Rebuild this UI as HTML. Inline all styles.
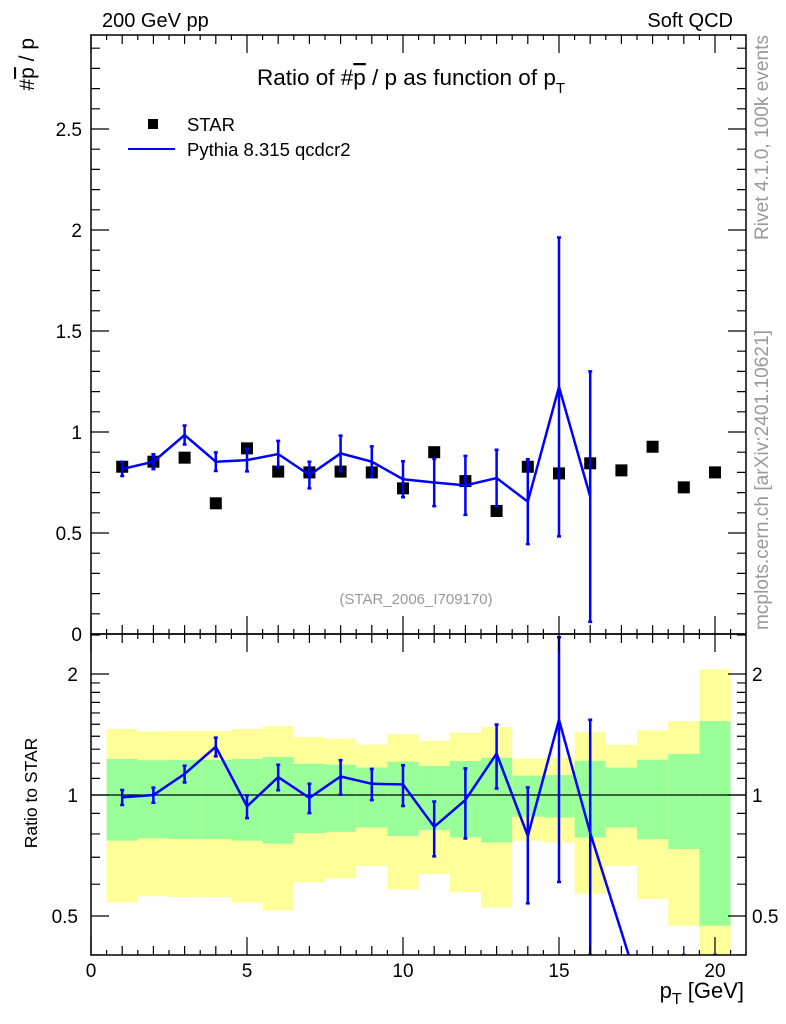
<!DOCTYPE html>
<html><head><meta charset="utf-8"><style>
html,body{margin:0;background:#fff;overflow:hidden;width:786px;height:1024px;}
svg{display:block;font-family:"Liberation Sans",sans-serif;}
</style></head><body>
<svg id="c" width="786" height="1024" viewBox="0 0 786 1024" xmlns="http://www.w3.org/2000/svg">
<text x="102" y="27" font-size="20">200 GeV pp</text>
<text x="733" y="27" font-size="20" text-anchor="end">Soft QCD</text>
<text x="257" y="85" font-size="22.5" textLength="308">Ratio of #<tspan text-decoration="overline">p</tspan> / p as function of p<tspan font-size="15" dy="8">T</tspan></text>
<text transform="translate(34,38) rotate(-90)" font-size="21" text-anchor="end">#<tspan text-decoration="overline">p</tspan> / p</text>
<text transform="translate(37,793) rotate(-90)" font-size="17.5" text-anchor="middle">Ratio to STAR</text>
<text x="744" y="998" font-size="22" text-anchor="end">p<tspan font-size="16" dy="6">T</tspan><tspan dy="-6"> [GeV]</tspan></text>
<text transform="translate(768,240) rotate(-90)" font-size="19" fill="#999" textLength="205">Rivet 4.1.0,  100k events</text>
<text transform="translate(768,630) rotate(-90)" font-size="19" fill="#999" textLength="300">mcplots.cern.ch [arXiv:2401.10621]</text>
<text x="416" y="604" font-size="15" fill="#999" text-anchor="middle">(STAR_2006_I709170)</text>
<rect x="148" y="119" width="10" height="10" fill="#000"/>
<text x="187" y="131" font-size="18.5">STAR</text>
<line x1="128" y1="149" x2="175" y2="149" stroke="#00f" stroke-width="2"/>
<text x="187" y="156" font-size="18.5">Pythia 8.315 qcdcr2</text>
<g id="bands"></g><g id="marks"></g><g id="axes"></g>
</svg>
<script>
const xCenters=[1,2,3,4,5,6,7,8,9,10,11,12,13,14,15,16,17,18,19,20];
const starVals=[0.828,0.853,0.873,0.647,0.919,0.804,0.80,0.804,0.80,0.721,0.90,0.757,0.609,0.828,0.795,0.845,0.81,0.927,0.726,0.80];
const starStatRel=[0.23,0.22,0.223,0.223,0.23,0.243,0.196,0.19,0.17,0.21,0.182,0.215,0.238,0.117,0.121,0.216,0.17,0.224,0.266,0.527];
const starTotRel=[0.46,0.44,0.443,0.443,0.46,0.484,0.393,0.38,0.334,0.418,0.364,0.427,0.475,0.231,0.238,0.432,0.333,0.449,0.527,1.055];
const pythiaVals=[0.817,0.853,0.985,0.853,0.861,0.891,0.787,0.894,0.853,0.766,0.75,0.736,0.772,0.655,1.223,0.68,0.37,0.24,0.05,0.05];
const pythiaErr=[0.035,0.037,0.047,0.046,0.056,0.065,0.066,0.088,0.076,0.089,0.117,0.146,0.14,0.21,0.74,0.62,0,0,0.04,0.04];
const nMain=16;
const mainYTicks=["0","0.5","1","1.5","2","2.5"];
const ratioYTicks=["0.5","1","2"];
const xTicks=["0","5","10","15","20"];

const NS="http://www.w3.org/2000/svg";
const L=91,R=746,T=35,MB=634,RB=955;
const X=v=>91+v*31.2;
const Ym=v=>634-v*202;
const Yr=v=>795-121*Math.log2(v);
function el(p,tag,a){const e=document.createElementNS(NS,tag);for(const k in a)e.setAttribute(k,a[k]);p.appendChild(e);return e;}
const svg=document.getElementById('c');
const defs=el(svg,'defs',{});
const cm=el(defs,'clipPath',{id:'cm'});el(cm,'rect',{x:L,y:T,width:R-L,height:MB-T});
const cr=el(defs,'clipPath',{id:'cr'});el(cr,'rect',{x:L,y:MB,width:R-L,height:RB-MB});
const bands=document.getElementById('bands');bands.setAttribute('clip-path','url(#cr)');
const marks=document.getElementById('marks');
const axes=document.getElementById('axes');
const clampR=v=>Math.min(Math.max(v,0.4),2.5);
const cy=y=>Math.min(Math.max(y,MB),RB);

xCenters.forEach((x,i)=>{
  const yl=clampR(1-starTotRel[i]), yh=clampR(1+starTotRel[i]);
  const y=el(bands,'rect',{x:X(x-0.5),y:Yr(yh),width:31.2,height:Yr(yl)-Yr(yh),fill:'#ffff99'});
  
  
  const gl=clampR(1-starStatRel[i]), gh=clampR(1+starStatRel[i]);
  const g=el(bands,'rect',{x:X(x-0.5),y:Yr(gh),width:31.2,height:Yr(gl)-Yr(gh),fill:'#99ff99'});
  
  
});
const one=el(bands,'line',{x1:L,x2:R,y1:Yr(1),y2:Yr(1),stroke:'#000','stroke-width':1.2});



const gm=el(marks,'g',{'clip-path':'url(#cm)'});
xCenters.forEach((x,i)=>{
  const s=el(gm,'rect',{x:X(x)-6,y:Ym(starVals[i])-6,width:12,height:12,fill:'#000'});
  
  
});
let pts=[];
for(let i=0;i<nMain;i++){
  const x=X(xCenters[i]),v=pythiaVals[i],e=pythiaErr[i];
  pts.push(x+','+Ym(v));
  const y1=Math.min(Ym(v-e),MB),y2=Math.max(Ym(v+e),T);
  const eb=el(gm,'path',{d:`M${x},${y1}V${y2}M${x-2},${y1}h4M${x-2},${y2}h4`,stroke:'#00f','stroke-width':2.5,fill:'none'});
  
  
}
const pl=el(gm,'polyline',{points:pts.join(' '),stroke:'#00f','stroke-width':2.5,fill:'none'});



const gr=el(marks,'g',{'clip-path':'url(#cr)'});
let rpts=[];
xCenters.forEach((x,i)=>{
  const r=pythiaVals[i]/starVals[i], re=pythiaErr[i]/starVals[i];
  const px=X(x);rpts.push([px,Yr(Math.max(r,0.01))]);
  if(re>0){
    const y1=cy(Yr(Math.max(r-re,0.01))), y2=cy(Yr(r+re));
    const eb=el(gr,'path',{d:`M${px},${y1}V${y2}M${px-2},${y1}h4M${px-2},${y2}h4`,stroke:'#00f','stroke-width':2.5,fill:'none'});
    
    
  }
});
// clip ratio line manually at panel edges
let segs=[],cur=[];
for(let i=0;i<rpts.length;i++){
  const [x,y]=rpts[i];
  if(y<=RB&&y>=MB){cur.push([x,y]);}
  if(i<rpts.length-1){
    const [x2,y2]=rpts[i+1];
    const in1=y<=RB, in2=y2<=RB;
    if(in1&&!in2){const t=(RB-y)/(y2-y);cur.push([x+t*(x2-x),RB]);segs.push(cur);cur=[];}
    else if(!in1&&in2){const t=(RB-y)/(y2-y);cur=[[x+t*(x2-x),RB]];}
  }
}
if(cur.length)segs.push(cur);
segs.forEach(s=>{
  if(s.length<2)return;
  const rl=el(gr,'polyline',{points:s.map(p=>p.join(',')).join(' '),stroke:'#00f','stroke-width':2.5,fill:'none'});
  
  
});

[[T,MB],[MB,RB]].forEach(([a,b])=>{
  const f=el(axes,'rect',{x:L,y:a,width:R-L,height:b-a,fill:'none',stroke:'#000','stroke-width':1.5});
  
  
});
let d='';
for(let k=1;k<=29;k++){const v=k/10,y=Ym(v),len=(k%5==0)?18:9;if(y<T)continue;d+=`M${L},${y}h${len}M${R},${y}h${-len}`;}
mainYTicks.forEach(t=>{
  const tx=el(axes,'text',{x:82,y:Ym(+t)+7,'font-size':19,'text-anchor':'end'});tx.textContent=t;
  
  
});
for(let k=4;k<=25;k++){const v=k/10;if(k>20&&k!=25)continue;const y=Yr(v);if(y<MB||y>RB)continue;const maj=(k==5||k==10||k==20);const len=maj?18:9;d+=`M${L},${y}h${len}M${R},${y}h${-len}`;}
ratioYTicks.forEach(t=>{
  const y=Yr(+t)+7;
  const a=el(axes,'text',{x:78,y:y,'font-size':19,'text-anchor':'end'});a.textContent=t;
  
  
  const b=el(axes,'text',{x:752,y:y,'font-size':19});b.textContent=t;
  
  
});
for(let k=0;k<=42;k++){const v=k/2,x=X(v);if(x>R)continue;const len=(k%10==0)?18:(k%2==0?9:5);
  [[MB,-1],[T,1],[RB,-1],[MB,1]].forEach(([y,s])=>{d+=`M${x},${y}v${s*len}`;});}
const tk=el(axes,'path',{d:d,stroke:'#000','stroke-width':1.2,fill:'none'});


xTicks.forEach(t=>{
  const tx=el(axes,'text',{x:X(+t),y:977,'font-size':19,'text-anchor':'middle'});tx.textContent=t;
  
  
});
</script>
</body></html>
